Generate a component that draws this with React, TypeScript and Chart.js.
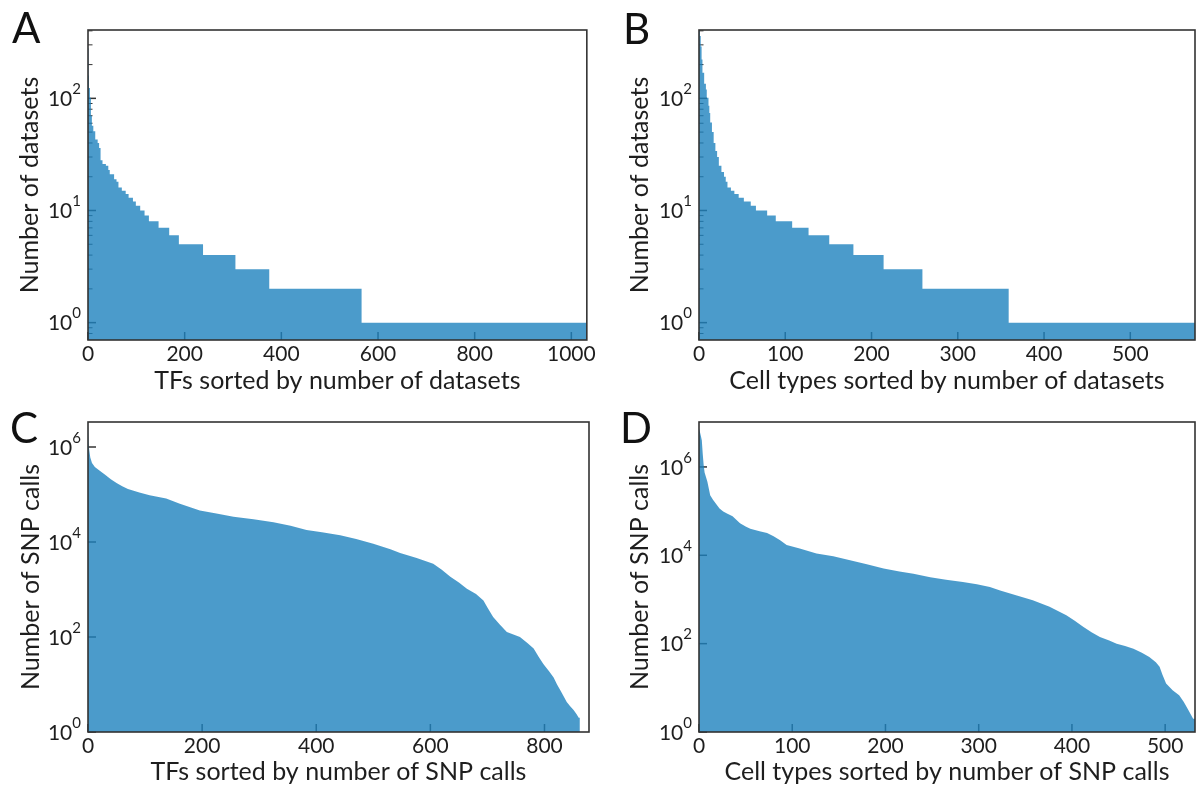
import React, { useEffect, useRef } from 'react';
import { Chart, registerables } from 'chart.js';

Chart.register(...registerables);

// ---------- Panel A: TFs sorted by number of datasets (rank where a step starts, count) ----------
const tfDatasetRank = [0, 1, 2, 4, 6, 8, 11, 15, 20, 23, 26, 30, 37, 42, 45, 54, 59, 63, 70, 78, 84, 93, 99, 108, 117, 126, 146, 168, 188, 238, 305, 375, 566, 1032];
const tfDatasetCount = [280, 160, 124, 101, 70, 57, 51, 43, 40, 36, 28, 26, 25, 23, 21, 19, 18, 16, 15, 14, 13, 12, 11, 10, 9, 8, 7, 6, 5, 4, 3, 2, 1, 1];

// ---------- Panel B: cell types sorted by number of datasets ----------
const cellDatasetRank = [0, 1, 2, 3, 4, 6, 8, 9, 11, 12, 13, 15, 17, 19, 21, 23, 26, 29, 31, 33, 37, 41, 46, 52, 60, 66, 79, 89, 108, 127, 151, 179, 214, 259, 359, 575];
const cellDatasetCount = [400, 360, 290, 222, 169, 135, 120, 101, 86, 74, 61, 50, 40, 34, 30, 25, 22, 20, 18, 16, 15, 14, 13, 12, 11, 10, 9, 8, 7, 6, 5, 4, 3, 2, 1, 1];

// ---------- Panel C: TFs sorted by number of SNP calls ----------
const tfSnpRank = [0, 1, 2, 4, 7, 12, 20, 30, 40, 50, 60, 70, 90, 108, 137, 161, 196, 225, 255, 290, 325, 355, 383, 410, 442, 470, 500, 530, 547, 576, 605, 620, 635, 650, 664, 680, 693, 700, 710, 722, 734, 757, 770, 781, 790, 798, 808, 816, 822, 828, 834, 839, 845, 851, 856, 860, 862];
const tfSnpCalls = [3.0e6, 1.2e6, 9e5, 6e5, 4.6e5, 3.8e5, 3.2e5, 2.6e5, 2.1e5, 1.75e5, 1.5e5, 1.3e5, 1.1e5, 9.6e4, 8.2e4, 6.4e4, 4.6e4, 4.0e4, 3.4e4, 3.0e4, 2.6e4, 2.2e4, 1.8e4, 1.6e4, 1.38e4, 1.15e4, 9.2e3, 7.0e3, 5.9e3, 4.6e3, 3.5e3, 2.6e3, 1.85e3, 1.4e3, 1.04e3, 800, 590, 420, 265, 180, 127, 100, 75, 57, 38, 27, 19, 14, 10, 7.5, 5.5, 4.3, 3.5, 2.9, 2.4, 2.0, 2.0];

// ---------- Panel D: cell types sorted by number of SNP calls ----------
const cellSnpRank = [0, 1, 2, 3, 4, 5, 6, 9, 12, 15, 19, 22, 26, 30, 36, 40, 44, 50, 55, 65, 73, 80, 87, 94, 108, 126, 144, 162, 180, 198, 215, 230, 248, 265, 283, 298, 312, 323, 340, 358, 376, 394, 403, 412, 421, 430, 440, 448, 457, 466, 475, 483, 490, 494, 497, 501, 508, 515, 520, 525, 530, 532];
const cellSnpCalls = [7.4e6, 6.2e6, 5.0e6, 4.0e6, 2.0e6, 1.1e6, 7.5e5, 4.6e5, 2.3e5, 1.8e5, 1.4e5, 1.15e5, 9.8e4, 8.8e4, 7.6e4, 6.4e4, 5.3e4, 4.5e4, 4.0e4, 3.5e4, 3.2e4, 2.7e4, 2.2e4, 1.7e4, 1.42e4, 1.1e4, 9.5e3, 7.7e3, 6.3e3, 5.0e3, 4.3e3, 3.8e3, 3.2e3, 2.8e3, 2.5e3, 2.2e3, 1.92e3, 1.6e3, 1.24e3, 960, 680, 440, 330, 240, 180, 141, 118, 100, 88, 77, 62, 50, 38, 30, 20, 12.5, 8.8, 6.8, 4.8, 3.1, 2.0, 2.0];

// ---------- tick labels ----------
const tfTicks = [0, 200, 400, 600, 800, 1000];
const tfSnpTicks = [0, 200, 400, 600, 800];
const cellTicks = [0, 100, 200, 300, 400, 500];
const datasetExps = [0, 1, 2];
const snpExps = [0, 2, 4, 6];

const FILL = 'rgba(30, 130, 190, 0.8)';
const TEXT = '#1e1e1e';
const FONT = 'Lato';

const mplAxes = {
  id: 'mplAxes',
  beforeDatasetsDraw(chart: any, _args: any, opts: any) {
    const { ctx, chartArea: a, scales } = chart;
    const x = scales.x;
    const y = scales.y;
    ctx.save();
    ctx.strokeStyle = '#333';
    ctx.lineWidth = 1.5;
    for (const t of x.ticks) {
      const px = x.getPixelForValue(t.value);
      ctx.beginPath();
      ctx.moveTo(px, a.bottom);
      ctx.lineTo(px, a.bottom - 8);
      ctx.stroke();
    }
    for (const e of opts.exps) {
      const py = y.getPixelForValue(Math.pow(10, e));
      ctx.beginPath();
      ctx.moveTo(a.left, py);
      ctx.lineTo(a.left + 8, py);
      ctx.stroke();
    }
    if (opts.minor) {
      ctx.lineWidth = 1;
      const lo = Math.floor(Math.log10(y.min));
      const hi = Math.ceil(Math.log10(y.max));
      for (let e = lo; e <= hi; e++) {
        for (let m = 2; m <= 9; m++) {
          const v = m * Math.pow(10, e);
          if (v <= y.min * 1.01 || v >= y.max * 0.99) continue;
          const py = y.getPixelForValue(v);
          ctx.beginPath();
          ctx.moveTo(a.left, py);
          ctx.lineTo(a.left + 4.5, py);
          ctx.stroke();
        }
      }
    }
    ctx.restore();
  },
  afterDatasetsDraw(chart: any, _args: any, opts: any) {
    const { ctx, chartArea: a, scales } = chart;
    const y = scales.y;
    ctx.save();
    ctx.strokeStyle = '#333';
    ctx.lineWidth = 1.6;
    ctx.strokeRect(a.left, a.top, a.right - a.left, a.bottom - a.top);
    ctx.fillStyle = TEXT;
    ctx.textBaseline = 'middle';
    ctx.textAlign = 'left';
    for (const e of opts.exps) {
      const py = y.getPixelForValue(Math.pow(10, e));
      const es = String(e);
      ctx.font = `15px ${FONT}`;
      const ew = ctx.measureText(es).width;
      ctx.font = `21px ${FONT}`;
      const bw = ctx.measureText('10').width;
      const right = a.left - 7;
      ctx.fillText('10', right - ew - bw, py + 1);
      ctx.font = `15px ${FONT}`;
      ctx.fillText(es, right - ew, py - 9);
    }
    ctx.fillStyle = '#111';
    ctx.font = `42px ${FONT}`;
    ctx.textBaseline = 'alphabetic';
    ctx.fillText(opts.letter, opts.letterX, opts.letterY);
    ctx.restore();
  },
};

type PanelProps = {
  left: number;
  top: number;
  ranks: number[];
  values: number[];
  stepped: boolean;
  xTicks: number[];
  xMax: number;
  yMin: number;
  yMax: number;
  exps: number[];
  minor: boolean;
  xTitle: string;
  yTitle: string;
  letter: string;
  letterX: number;
  letterY: number;
  padTop: number;
  padRight: number;
  yWidth: number;
  xHeight: number;
  yTitlePad: number;
  xTitlePad: number;
};

const W = 598;
const H = 393;

function Panel(p: PanelProps) {
  const ref = useRef<HTMLCanvasElement | null>(null);
  useEffect(() => {
    if (!ref.current) return;
    const points = p.ranks.map((r, i) => ({ x: r, y: p.values[i] }));
    const chart = new Chart(ref.current, {
      type: 'line',
      data: {
        datasets: [
          {
            data: points,
            stepped: p.stepped ? 'before' : false,
            tension: 0,
            borderWidth: 0,
            borderColor: 'rgba(0,0,0,0)',
            backgroundColor: FILL,
            fill: 'start',
            pointRadius: 0,
          } as any,
        ],
      },
      options: {
        animation: false,
        responsive: false,
        devicePixelRatio: 1,
        events: [],
        layout: { padding: { top: p.padTop, right: p.padRight, left: 0, bottom: 0 } },
        plugins: {
          legend: { display: false },
          tooltip: { enabled: false },
          mplAxes: {
            exps: p.exps,
            minor: p.minor,
            letter: p.letter,
            letterX: p.letterX,
            letterY: p.letterY,
          },
        } as any,
        scales: {
          x: {
            type: 'linear',
            min: 0,
            max: p.xMax,
            grid: { display: false, drawTicks: false },
            border: { display: false },
            afterBuildTicks: (s: any) => {
              s.ticks = p.xTicks.map((v) => ({ value: v }));
            },
            afterFit: (s: any) => {
              s.height = p.xHeight;
            },
            ticks: {
              autoSkip: false,
              maxRotation: 0,
              padding: 2,
              color: TEXT,
              font: { family: FONT, size: 21 },
              callback: (v: any) => String(v),
            },
            title: {
              display: true,
              text: p.xTitle,
              color: TEXT,
              font: { family: FONT, size: 25, lineHeight: 1 },
              padding: { top: 0, bottom: p.xTitlePad },
            },
          },
          y: {
            type: 'logarithmic',
            min: p.yMin,
            max: p.yMax,
            grid: { display: false, drawTicks: false },
            border: { display: false },
            ticks: { display: false },
            afterFit: (s: any) => {
              s.width = p.yWidth;
            },
            title: {
              display: true,
              text: p.yTitle,
              color: TEXT,
              font: { family: FONT, size: 25, lineHeight: 1 },
              padding: { top: p.yTitlePad, bottom: 0 },
            },
          },
        },
      } as any,
      plugins: [mplAxes as any],
    });
    return () => chart.destroy();
  }, []);
  return (
    <canvas
      ref={ref}
      width={W}
      height={H}
      style={{ position: 'absolute', left: p.left, top: p.top, width: W, height: H }}
    />
  );
}

export default function App() {
  return (
    <div style={{ position: 'absolute', left: 0, top: 0, width: 1196, height: 786, background: '#fff', overflow: 'hidden' }}>
      <Panel
        left={0} top={0}
        ranks={tfDatasetRank} values={tfDatasetCount} stepped={true}
        xTicks={tfTicks} xMax={1032} yMin={0.7} yMax={407}
        exps={datasetExps} minor={true}
        xTitle="TFs sorted by number of datasets" yTitle="Number of datasets"
        letter="A" letterX={12} letterY={43}
        padTop={30} padRight={9} yWidth={88} xHeight={53} yTitlePad={17} xTitlePad={0}
      />
      <Panel
        left={598} top={0}
        ranks={cellDatasetRank} values={cellDatasetCount} stepped={true}
        xTicks={cellTicks} xMax={575} yMin={0.7} yMax={407}
        exps={datasetExps} minor={true}
        xTitle="Cell types sorted by number of datasets" yTitle="Number of datasets"
        letter="B" letterX={25} letterY={44}
        padTop={30} padRight={1} yWidth={101} xHeight={53} yTitlePad={29} xTitlePad={0}
      />
      <Panel
        left={0} top={393}
        ranks={tfSnpRank} values={tfSnpCalls} stepped={false}
        xTicks={tfSnpTicks} xMax={878} yMin={1} yMax={3.36e6}
        exps={snpExps} minor={false}
        xTitle="TFs sorted by number of SNP calls" yTitle="Number of SNP calls"
        letter="C" letterX={10} letterY={50}
        padTop={29} padRight={9} yWidth={88} xHeight={54} yTitlePad={18} xTitlePad={2}
      />
      <Panel
        left={598} top={393}
        ranks={cellSnpRank} values={cellSnpCalls} stepped={false}
        xTicks={cellTicks} xMax={532} yMin={1} yMax={1.04e7}
        exps={snpExps} minor={false}
        xTitle="Cell types sorted by number of SNP calls" yTitle="Number of SNP calls"
        letter="D" letterX={22} letterY={50}
        padTop={29} padRight={1} yWidth={101} xHeight={54} yTitlePad={29} xTitlePad={2}
      />
    </div>
  );
}
